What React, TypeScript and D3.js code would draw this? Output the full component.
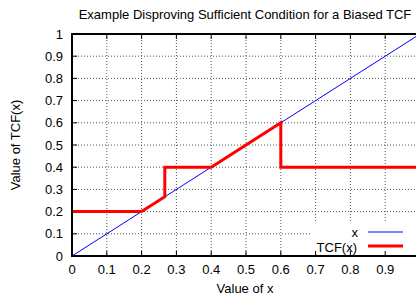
import React from "react";
import { scaleLinear, line, range } from "d3";

const title = "Example Disproving Sufficient Condition for a Biased TCF";
const xLabel = "Value of x";
const yLabel = "Value of TCF(x)";

const ticks = range(0, 11).map((i) => i / 10);
const tickLabels = ["0", "0.1", "0.2", "0.3", "0.4", "0.5", "0.6", "0.7", "0.8", "0.9", "1"];

// y = x reference line
const diagX = [0, 1];
const diagY = [0, 1];

// TCF(x) step/ramp function
const tcfX = [0, 0.2, 0.2667, 0.2667, 0.4, 0.6, 0.6, 1];
const tcfY = [0.2, 0.2, 0.2667, 0.4, 0.4, 0.6, 0.4, 0.4];

const W = 416;
const H = 297;
const m = { left: 72, top: 34, right: 420, bottom: 256 };
const font = "'Liberation Sans', Arial, sans-serif";
const fs = 13;

export default function App(): JSX.Element {
  const x = scaleLinear().domain([0, 1]).range([m.left, m.right]);
  const y = scaleLinear().domain([0, 1]).range([m.bottom, m.top]);

  const mk = (xs: number[], ys: number[]) =>
    line<number>()
      .x((d) => x(d))
      .y((_, i) => y(ys[i]))(xs) ?? "";

  const legendX = 311;
  const legendY = 222;

  return (
    <svg
      width={W}
      height={H}
      style={{ position: "absolute", left: 0, top: 0, background: "#fff" }}
      fontFamily={font}
    >
      <defs>
        <clipPath id="plot">
          <rect x={m.left} y={m.top} width={m.right - m.left} height={m.bottom - m.top} />
        </clipPath>
      </defs>

      {/* grid */}
      <g stroke="#555" strokeWidth={1} strokeDasharray="1,2">
        {ticks.slice(1, -1).map((t, i) => (
          <line key={`gx${i}`} x1={x(t)} x2={x(t)} y1={m.top} y2={m.bottom} />
        ))}
        {ticks.slice(1, -1).map((t, i) => (
          <line key={`gy${i}`} x1={m.left} x2={m.right} y1={y(t)} y2={y(t)} />
        ))}
      </g>

      {/* legend box (hides grid) */}
      <rect x={legendX} y={legendY} width={105} height={m.bottom - legendY - 1} fill="#fff" />

      {/* ticks */}
      <g stroke="#000" strokeWidth={1}>
        {ticks.map((t, i) => (
          <React.Fragment key={`t${i}`}>
            <line x1={m.left} x2={m.left + 5} y1={y(t)} y2={y(t)} />
            <line x1={x(t)} x2={x(t)} y1={m.bottom} y2={m.bottom - 5} />
            <line x1={x(t)} x2={x(t)} y1={m.top} y2={m.top + 5} />
          </React.Fragment>
        ))}
      </g>

      {/* series */}
      <g clipPath="url(#plot)" fill="none">
        <path d={mk(diagX, diagY)} stroke="#0000ff" strokeWidth={1} />
        <path d={mk(tcfX, tcfY)} stroke="#ff0000" strokeWidth={3} strokeLinejoin="miter" />
      </g>

      {/* border */}
      <rect
        x={m.left}
        y={m.top}
        width={m.right - m.left}
        height={m.bottom - m.top}
        fill="none"
        stroke="#000"
        strokeWidth={2}
      />

      {/* tick labels */}
      <g fontSize={fs} fill="#000">
        {ticks.map((t, i) => (
          <text key={`yl${i}`} x={m.left - 9} y={y(t)} dy="0.35em" textAnchor="end">
            {tickLabels[i]}
          </text>
        ))}
        {ticks
          .filter((t) => x(t) < W - 4)
          .map((t, i) => (
            <text key={`xl${i}`} x={x(t)} y={274} textAnchor="middle">
              {tickLabels[i]}
            </text>
          ))}
      </g>

      {/* legend */}
      <g fontSize={fs}>
        <text x={358} y={232} dy="0.35em" textAnchor="end">x</text>
        <line x1={368} x2={403} y1={232} y2={232} stroke="#0000ff" strokeWidth={1} />
        <text x={357} y={247} dy="0.35em" textAnchor="end">TCF(x)</text>
        <line x1={368} x2={403} y1={246} y2={246} stroke="#ff0000" strokeWidth={3} />
      </g>

      {/* titles */}
      <text x={245} y={19} fontSize={fs} textAnchor="middle">{title}</text>
      <text x={245} y={293} fontSize={fs} textAnchor="middle">{xLabel}</text>
      <text
        transform={`translate(20,${(m.top + m.bottom) / 2}) rotate(-90)`}
        fontSize={fs}
        textAnchor="middle"
      >
        {yLabel}
      </text>
    </svg>
  );
}
